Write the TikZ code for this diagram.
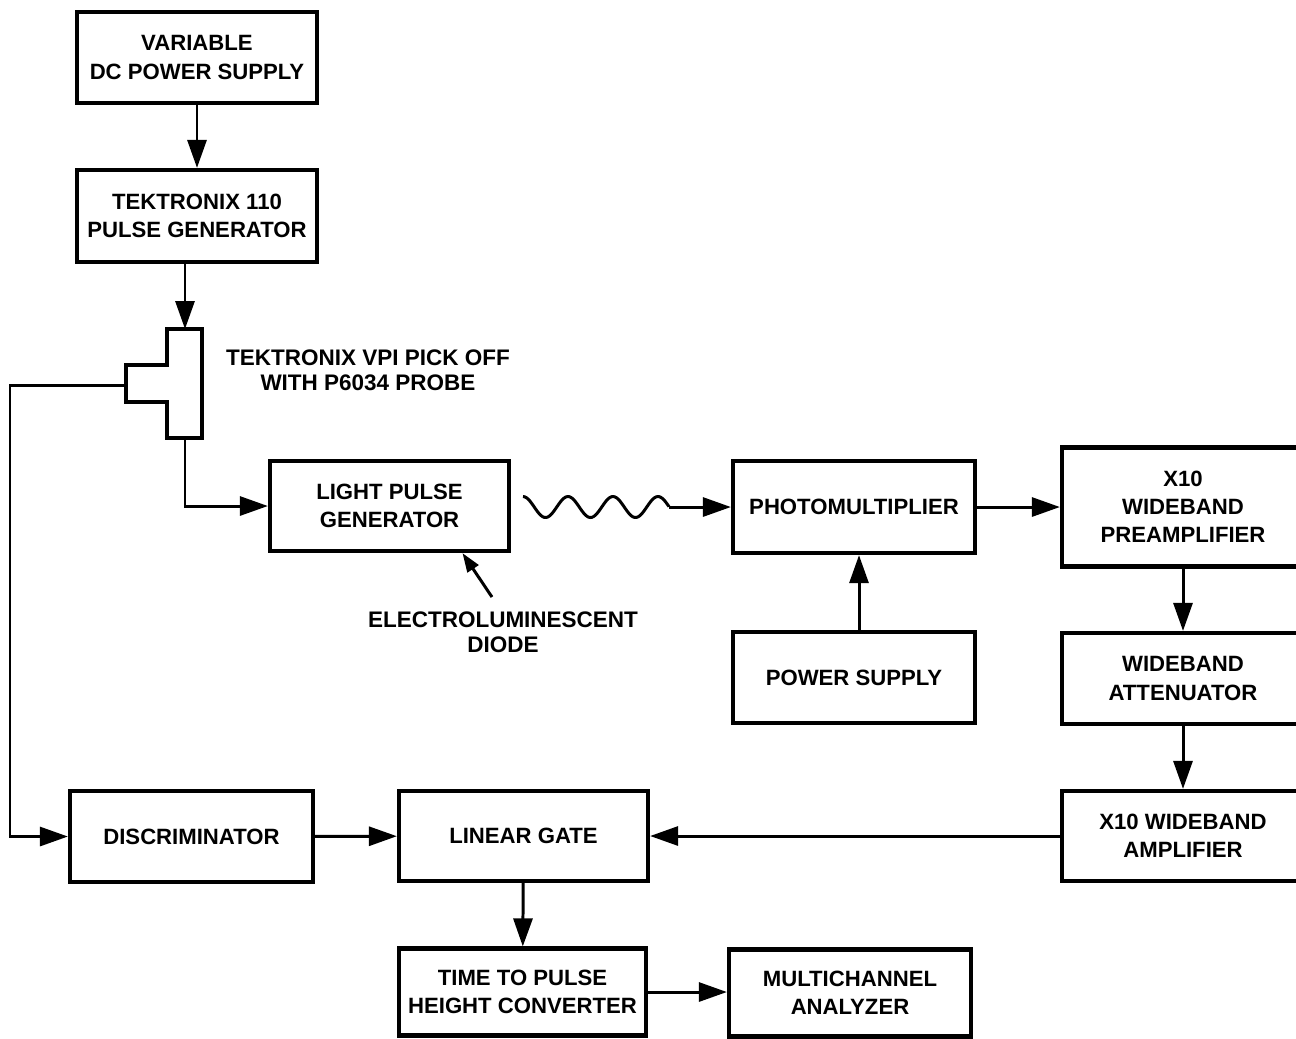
\documentclass[tikz,border=0pt]{standalone}
\usepackage{fontspec}
\setsansfont{Liberation Sans}
\usetikzlibrary{arrows.meta, positioning, calc}

\begin{document}
\begin{tikzpicture}[
  box/.style={draw, line width=1.2pt, align=center, inner sep=0pt, minimum width=24.2mm, minimum height=9.1mm, font=\sffamily\bfseries\fontsize{6.3}{8}\selectfont},
  lbl/.style={align=center, inner sep=0pt, font=\sffamily\bfseries\fontsize{6.4}{7}\selectfont},
  wire/.style={line width=0.85pt},
  >={Triangle[length=2.8mm, width=1.9mm]}
]
\useasboundingbox (0,0) rectangle (12.96,-10.38);

\node[box, minimum width=24mm] (dcps) at (1.97,-0.575) {VARIABLE\\DC POWER SUPPLY};
\node[box, minimum width=24mm, minimum height=9.2mm] (pgen) at (1.97,-2.16) {TEKTRONIX 110\\PULSE GENERATOR};
\node[box, minimum width=23.9mm, minimum height=9mm] (lpg) at (3.895,-5.06) {LIGHT PULSE\\GENERATOR};
\node[box, minimum height=9.2mm] (pmt) at (8.54,-5.07) {PHOTOMULTIPLIER};
\node[box, minimum height=11.9mm] (pre) at (11.83,-5.07) {X10\\WIDEBAND\\PREAMPLIFIER};
\node[box] (hv) at (8.54,-6.775) {POWER SUPPLY};
\node[box] (att) at (11.83,-6.785) {WIDEBAND\\ATTENUATOR};
\node[box, minimum height=9mm] (amp) at (11.83,-8.36) {X10 WIDEBAND\\AMPLIFIER};
\node[box, minimum width=24.3mm] (disc) at (1.915,-8.365) {DISCRIMINATOR};
\node[box, minimum width=24.9mm, minimum height=9mm] (gate) at (5.235,-8.36) {LINEAR GATE};
\node[box, minimum width=24.7mm, minimum height=8.7mm] (tac) at (5.225,-9.92) {TIME TO PULSE\\HEIGHT CONVERTER};
\node[box, minimum height=8.7mm] (mca) at (8.50,-9.93) {MULTICHANNEL\\ANALYZER};

\draw[line width=1.2pt] (1.67,-3.29) -- (2.02,-3.29) -- (2.02,-4.38) -- (1.67,-4.38) -- (1.67,-4.02)
  -- (1.26,-4.02) -- (1.26,-3.65) -- (1.67,-3.65) -- cycle;
\coordinate (teein) at (1.85,-3.29);
\coordinate (teeout) at (1.85,-4.38);
\coordinate (teearm) at (1.26,-3.85);
\coordinate (lft) at (0.10,-3.85);
\node[lbl] (tlbl) at (3.68,-3.70) {TEKTRONIX VPI PICK OFF\\WITH P6034 PROBE};

\node[lbl] (eld) at (5.03,-6.32) {ELECTROLUMINESCENT\\DIODE};

\draw[wire,->] (dcps) -- (pgen);
\draw[wire,->] (teein |- pgen.south) -- (teein);
\draw[wire,->] (teeout) |- (lpg.west);
\draw[wire,->] (teearm) -- (lft) |- (disc.west);
\draw[wire] plot[domain=0:1.46, samples=90, smooth] ({5.23+\x},{-5.07+0.105*cos(\x*800)});
\coordinate (wv) at (6.69,-5.07);
\draw[wire,->] (wv) -- (pmt.west);
\draw[wire,->] (pmt) -- (pre);
\draw[wire,->] (hv.north -| 8.59,0) -- (pmt.south -| 8.59,0);
\draw[wire,->] (pre) -- (att);
\draw[wire,->] (att) -- (amp);
\draw[wire,->] (amp) -- (gate);
\draw[wire,->] (disc) -- (gate);
\draw[wire,->] (gate) -- (tac);
\draw[wire,->] (tac.east) -- (tac.east -| mca.west);
\draw[wire,-{Triangle[length=1.9mm, width=1.3mm]}] ([xshift=-1.1mm,yshift=1.4mm]eld.north) -- ([xshift=7.3mm]lpg.south);
\end{tikzpicture}
\end{document}
